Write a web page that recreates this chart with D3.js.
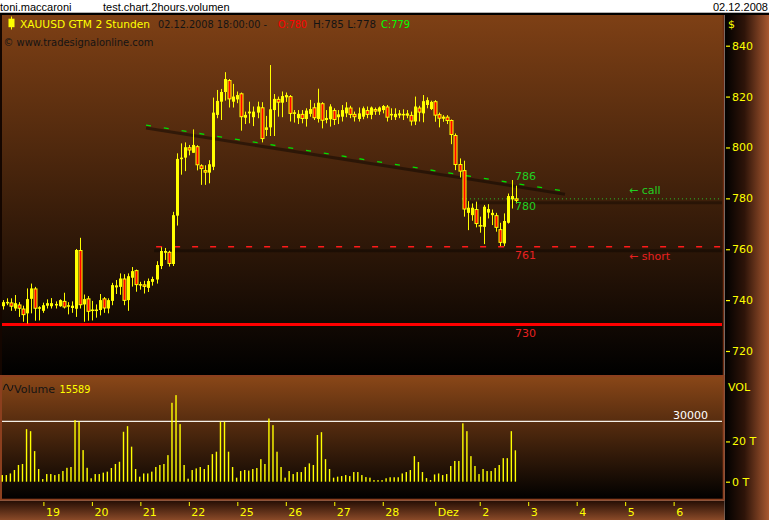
<!DOCTYPE html>
<html><head><meta charset="utf-8">
<script src="https://cdn.jsdelivr.net/npm/d3@7"></script>
<style>body{margin:0;background:#fff;} svg{display:block;}</style>
</head><body>
<svg id="c" width="769" height="520"></svg>
<script>
// ---------- DATA (2-hour bars, XAUUSD, 18.11.2008 - 02.12.2008 18:00) ----------
const open = [737.6,738.8,739.1,736.7,738.3,736.7,734.8,740.5,744.6,736.6,
735.8,737.8,737.6,737.9,737.6,739.7,737.4,736.9,736.6,759.7,
738.3,740.7,736.3,735.9,736.1,740.7,736.7,739.7,745.0,745.2,
748.5,740.0,748.8,751.8,746.1,746.2,744.8,747.2,748.1,753.4,
758.6,759.0,754.2,773.2,795.5,796.0,800.1,797.9,800.5,793.0,
791.1,790.1,792.4,812.8,818.0,821.8,826.5,818.0,818.9,821.3,
811.7,813.4,811.9,813.7,815.8,806.9,807.9,814.7,819.1,817.6,
819.7,820.2,813.2,811.5,813.2,811.2,813.2,815.8,811.2,817.4,
810.8,811.1,814.7,811.9,812.1,813.4,815.7,813.2,811.2,812.1,
814.7,812.8,815.1,814.1,814.7,816.1,812.6,811.9,812.6,813.2,
812.5,812.8,810.2,815.7,813.4,816.7,815.1,818.2,813.1,811.3,
812.1,810.8,804.9,793.5,791.1,774.3,773.4,775.8,769.5,768.8,
774.4,773.4,773.4,767.9,762.3,770.4,779.6,780];
const close = [739.2,739.3,737.4,738.8,736.6,734.1,740.4,744.6,736.6,737.2,
738.0,738.8,738.8,738.5,740.0,737.1,738.0,737.8,759.7,738.0,
740.4,735.4,736.1,736.3,740.0,736.7,740.0,745.9,745.8,748.5,
739.7,749.4,751.4,745.9,746.3,745.2,747.5,748.3,753.8,759.3,
759.3,754.2,773.4,795.5,796.0,800.1,798.8,801.0,793.0,791.5,
790.1,793.4,813.7,818.3,821.8,826.9,818.9,820.0,820.6,811.9,
812.8,814.1,814.1,816.1,803.3,807.9,815.0,819.1,817.6,820.2,
820.6,813.2,813.8,813.2,811.2,814.5,815.1,811.5,817.6,810.5,
811.6,816.1,810.8,813.0,814.7,815.7,812.8,811.9,813.4,815.4,
812.8,815.7,814.1,815.7,816.3,811.7,813.2,813.2,813.4,812.8,
813.4,810.2,816.1,813.7,818.2,818.6,817.9,812.5,811.3,812.1,
810.4,804.9,793.1,790.5,775.6,776.3,776.3,769.9,769.1,776.7,
775.8,774.3,768.4,762.5,771.1,780.9,780.9,779];
const high = [740.0,740.7,740.7,742.0,739.2,737.8,744.6,746.5,745.2,737.6,
739.0,740.3,740.8,739.5,740.3,742.9,739.2,739.5,760.1,764.5,
742.2,741.6,739.7,738.3,742.4,741.2,740.7,746.8,747.9,750.5,
750.2,750.5,753.0,752.0,747.2,747.6,748.5,749.2,755.3,760.8,
760.5,759.4,774.7,797.7,801.6,802.0,801.0,807.1,800.9,793.4,
793.0,795.0,819.6,822.6,823.0,829.6,826.9,825.0,822.0,821.6,
814.1,818.0,816.1,818.0,817.8,812.4,832.4,821.0,820.0,822.0,
821.6,820.6,814.7,814.7,814.7,815.4,818.7,817.4,823.1,817.8,
814.7,817.0,815.4,814.7,816.7,817.8,816.4,814.1,815.7,816.1,
816.1,816.1,815.7,816.1,816.7,816.7,815.4,815.4,814.7,815.0,
814.7,814.1,820.0,816.4,820.6,819.7,818.4,818.6,813.7,812.7,
812.7,811.0,805.5,795.7,794.8,778.9,778.0,778.7,772.8,777.4,
777.7,775.6,774.3,770.4,774.1,781.9,787.2,785];
const low = [736.3,738.0,735.8,735.8,733.4,731.5,730.8,734.8,731.9,732.0,
735.0,736.7,736.7,736.7,737.4,736.7,734.4,735.0,733.4,736.7,
731.5,731.9,732.0,733.1,734.0,735.0,734.8,738.0,742.4,742.1,
738.0,735.8,745.3,743.3,744.1,742.6,743.2,745.7,746.5,752.2,
755.8,753.2,753.4,769.3,789.3,790.7,796.9,797.9,791.0,785.3,
785.3,785.9,791.1,811.5,810.8,818.4,815.7,815.7,817.4,806.6,
809.2,809.5,808.4,811.5,802.0,804.5,804.5,804.5,812.1,811.9,
817.9,810.2,809.8,809.2,809.5,808.2,812.1,810.8,809.8,807.5,
809.5,808.2,808.8,809.2,810.2,811.9,811.5,810.2,810.2,811.1,
811.5,811.1,812.8,812.8,813.4,810.2,810.8,810.8,811.5,810.8,
811.5,808.6,808.8,810.2,809.9,815.4,814.7,810.1,807.9,810.1,
809.2,801.3,791.1,788.2,772.8,767.5,771.2,768.6,766.5,762.0,
772.1,769.5,766.9,761.2,761.2,770.1,776.0,778];
const volume = [3300,3300,4100,5800,8300,8800,26100,25100,15200,6300,
1300,3800,3800,3300,3800,5300,6900,7300,30600,29800,
15700,6900,1700,3800,3800,4500,5000,6800,8800,9900,
24800,27600,17400,6300,2500,4100,4100,5000,7300,8300,
8800,13200,39200,43000,28600,8300,1500,5800,6600,7300,
6300,8300,13700,14900,29800,29800,14900,7300,2000,5300,
5800,5500,6300,6800,11200,8800,31400,28100,14900,7300,
2000,5300,3800,4800,4800,7300,9100,8300,23200,24600,
11200,6300,2000,2500,2800,3300,2800,4800,4800,3300,
2300,2000,800,800,800,1700,2200,2200,2200,4100,
4800,5800,12700,9800,4800,1800,800,3600,4100,3300,
3800,7800,10300,10300,29000,25100,12700,7800,3800,6300,
5300,5300,6800,8300,11700,11700,25100,15589];
const dayTickIndex = [10,22,34,46,58,70,82,94,107,118,130,142,154,166];
const dayTickLabels = ["19","20","21","22","25","26","27","28","Dez","2","3","4","5","6"];
const priceTicks = [720,740,760,780,800,820,840];
const volTicks = [0,20000];
const volRefLevel = 30000;
const trendLine = [[35.4,808.8],[139.1,782.8]];
const trendLabel = 786;
const callLevel = 780, callStart = 113.6;
const shortLevel = 761, shortStart = 37.9;
const stopLevel = 730;

// ---------- SCALES ----------
const x = d3.scaleLinear().domain([0,127]).range([3, 3+127*4.04]);
const y = d3.scaleLinear().domain([720,840]).range([351,45.7]);
const yv = d3.scaleLinear().domain([0,30000]).range([481.7,421.3]);
const PR = 722; // right edge of plot panels

const svg = d3.select("#c");
const defs = svg.append("defs");
function grad(id, vertical, stops){
  const g = defs.append("linearGradient").attr("id",id)
    .attr("x1",0).attr("y1",0).attr("x2",vertical?0:1).attr("y2",vertical?1:0);
  stops.forEach(s=>g.append("stop").attr("offset",s[0]).attr("stop-color",s[1]));
}
grad("gMain",true,[[0,"#7e4015"],[1,"#000000"]]);
grad("gVol",true,[[0,"#8a4718"],[1,"#000000"]]);
grad("gRight",false,[[0,"#000000"],[0.45,"#2e1409"],[1,"#a8582f"]]);
grad("gBottom",true,[[0,"#240d04"],[1,"#8a4a28"]]);

// ---------- BACKGROUND / LAYOUT ----------
svg.append("rect").attr("x",0).attr("y",0).attr("width",769).attr("height",13).attr("fill","#fff");
svg.append("rect").attr("x",0).attr("y",12.7).attr("width",769).attr("height",2.3).attr("fill","#000");
svg.append("rect").attr("x",0).attr("y",15).attr("width",724).attr("height",360).attr("fill","url(#gMain)");
svg.append("rect").attr("x",0).attr("y",15).attr("width",2).attr("height",360).attr("fill","#140600");
svg.append("rect").attr("x",724.5).attr("y",15).attr("width",44.5).attr("height",505).attr("fill","url(#gRight)");
svg.append("rect").attr("x",0).attr("y",500.5).attr("width",724.5).attr("height",19.5).attr("fill","url(#gBottom)");
svg.append("rect").attr("x",1).attr("y",376).attr("width",722.7).attr("height",123.7)
  .attr("fill","url(#gVol)").attr("stroke","#8c3f1e").attr("stroke-width",2);
svg.append("line").attr("x1",723.5).attr("x2",723.5).attr("y1",15).attr("y2",375)
  .attr("stroke","#6e2c12").attr("stroke-width",1.5);

// title bar texts
const tb = svg.append("g").attr("font-family","Liberation Sans, Arial, sans-serif").attr("font-size",11).attr("fill","#000");
tb.append("text").attr("x",0).attr("y",10.5).text("toni.maccaroni");
tb.append("text").attr("x",103).attr("y",10.5).text("test.chart.2hours.volumen");
tb.append("text").attr("x",768).attr("y",10.5).attr("text-anchor","end").text("02.12.2008");

// ---------- MAIN PANEL ----------
const main = svg.append("g");
const FONT = "DejaVu Sans, sans-serif";

// stop line 730
main.append("line").attr("x1",2).attr("x2",PR).attr("y1",y(stopLevel)-1).attr("y2",y(stopLevel)-1)
  .attr("stroke","#ff0000").attr("stroke-width",3);
// short line 761 (shadow + dashes)
main.append("line").attr("x1",x(shortStart)-2).attr("x2",PR).attr("y1",y(shortLevel)+4).attr("y2",y(shortLevel)+4)
  .attr("stroke","rgba(0,0,0,0.35)").attr("stroke-width",3);
main.append("line").attr("x1",x(shortStart)).attr("x2",PR).attr("y1",y(shortLevel)).attr("y2",y(shortLevel))
  .attr("stroke","#ff1a1a").attr("stroke-width",1.6).attr("stroke-dasharray","6,12");
// call line 780 (shadow + dots)
main.append("line").attr("x1",x(callStart)).attr("x2",PR).attr("y1",y(callLevel)+4.3).attr("y2",y(callLevel)+4.3)
  .attr("stroke","rgba(0,0,0,0.3)").attr("stroke-width",3);
main.append("line").attr("x1",x(callStart)).attr("x2",PR).attr("y1",y(callLevel)+0.5).attr("y2",y(callLevel)+0.5)
  .attr("stroke","#2cc02c").attr("stroke-width",1).attr("stroke-dasharray","1,3");
// trend line (shadow + green dashes)
main.append("line")
  .attr("x1",x(trendLine[0][0])).attr("y1",y(trendLine[0][1])+3)
  .attr("x2",x(trendLine[1][0])).attr("y2",y(trendLine[1][1])+3)
  .attr("stroke","rgba(0,0,0,0.42)").attr("stroke-width",3);
main.append("line")
  .attr("x1",x(trendLine[0][0])).attr("y1",y(trendLine[0][1]))
  .attr("x2",x(trendLine[1][0])).attr("y2",y(trendLine[1][1]))
  .attr("stroke","#00e000").attr("stroke-width",1.3).attr("stroke-dasharray","5,13");

// candles
const idx = d3.range(open.length);
const cg = main.append("g");
idx.forEach(i=>{
  const cx = Math.round(x(i));
  const up = close[i] >= open[i];
  cg.append("line").attr("x1",cx+0.5).attr("x2",cx+0.5).attr("y1",y(high[i])).attr("y2",y(low[i]))
    .attr("stroke","#ffff00").attr("stroke-width",1);
  const top = y(Math.max(open[i],close[i])), bot = y(Math.min(open[i],close[i]));
  const h = Math.max(1.5, bot-top);
  if(up){
    cg.append("rect").attr("x",cx-1).attr("y",top).attr("width",3).attr("height",h).attr("fill","#ffff00");
  } else {
    cg.append("rect").attr("x",cx-1.5).attr("y",top).attr("width",4).attr("height",h).attr("fill","#ffff00");
    if(h>2.5) cg.append("rect").attr("x",cx-0.5).attr("y",top+1).attr("width",2).attr("height",h-2).attr("fill","#ff0000");
  }
});

// level labels
const lx = x(open.length-1) - 1;
const lab = main.append("g").attr("font-family",FONT).attr("font-size",11);
const trendAtLast = trendLine[0][1] + (open.length-1-trendLine[0][0])*(trendLine[1][1]-trendLine[0][1])/(trendLine[1][0]-trendLine[0][0]);
lab.append("text").attr("x",lx).attr("y",y(trendAtLast)-4).attr("fill","#22d022").text(trendLabel);
lab.append("text").attr("x",lx).attr("y",y(callLevel)+12).attr("fill","#22d022").text(callLevel);
lab.append("text").attr("x",lx).attr("y",y(shortLevel)+12).attr("fill","#e82020").text(shortLevel);
lab.append("text").attr("x",lx).attr("y",y(stopLevel)+11).attr("fill","#e82020").text(stopLevel);
lab.append("text").attr("x",629).attr("y",y(callLevel)-4).attr("fill","#22d022").text("\u2190 call");
lab.append("text").attr("x",629).attr("y",y(shortLevel)+13).attr("fill","#e82020").text("\u2190 short");

// header in main panel
const hd = main.append("g").attr("font-family",FONT).attr("font-size",10.5);
hd.append("line").attr("x1",11.5).attr("x2",11.5).attr("y1",16.5).attr("y2",29.5).attr("stroke","#ffff00");
hd.append("rect").attr("x",8.5).attr("y",18.7).attr("width",6).attr("height",8.5).attr("fill","#ffff00");
function ht(txt,x0,len,col,yy){
  hd.append("text").attr("x",x0).attr("y",yy||28).attr("fill",col).attr("textLength",len)
    .attr("lengthAdjust","spacingAndGlyphs").text(txt);
}
ht("XAUUSD GTM 2 Stunden",20,130,"#ffff00");
ht("02.12.2008 18:00:00 -",158,109,"#141414");
ht("O:" + open[open.length-1],278,29,"#ff0000");
ht("H:" + high[high.length-1] + " L:" + low[low.length-1],313,63,"#141414");
ht("C:" + close[close.length-1],381,29,"#00ff00");
ht("\u00a9 www.tradesignalonline.com",3.5,150,"#141414",46);

// price axis
const pa = svg.append("g").attr("transform","translate(726,0)")
  .call(d3.axisRight(y).tickValues(priceTicks).tickSize(4).tickPadding(2).tickFormat(d3.format("d")));
pa.select(".domain").remove();
pa.selectAll("line").attr("stroke","#ffff00").attr("stroke-width",1.2);
pa.selectAll("text").attr("fill","#ffff00").attr("font-family",FONT).attr("font-size",11);
svg.append("text").attr("x",728).attr("y",28).attr("fill","#ffff00").attr("font-family",FONT).attr("font-size",11).text("$");

// ---------- VOLUME PANEL ----------
const vg = svg.append("g");
vg.append("line").attr("x1",2).attr("x2",PR).attr("y1",yv(volRefLevel)).attr("y2",yv(volRefLevel))
  .attr("stroke","#f4f0e8").attr("stroke-width",1.2);
vg.selectAll("rect.v").data(idx).enter().append("rect").attr("class","v")
  .attr("x",i=>x(i)-1.4).attr("width",1.4)
  .attr("y",i=>yv(volume[i])).attr("height",i=>yv(0)-yv(volume[i]))
  .attr("fill","#ffff00");
vg.append("text").attr("x",673).attr("y",418.5).attr("fill","#ffffff").attr("font-family",FONT).attr("font-size",11).text(volRefLevel);
// volume header
vg.append("path").attr("d","M3.5,390 C5,383 7,383 8.3,387.5 C9.6,392 11.6,392 13,385")
  .attr("fill","none").attr("stroke","#141414").attr("stroke-width",1.1);
vg.append("text").attr("x",14).attr("y",392.5).attr("fill","#141414").attr("font-family",FONT).attr("font-size",10.5)
  .attr("textLength",41).attr("lengthAdjust","spacingAndGlyphs").text("Volume");
vg.append("text").attr("x",59.5).attr("y",392.5).attr("fill","#ffff00").attr("font-family",FONT).attr("font-size",10.5)
  .attr("textLength",31).attr("lengthAdjust","spacingAndGlyphs").text(Math.round(volume[volume.length-1]));
// volume axis
const va = svg.append("g").attr("transform","translate(726,0)")
  .call(d3.axisRight(yv).tickValues(volTicks).tickSize(4).tickPadding(2).tickFormat(d=>(d/1000)+" T"));
va.select(".domain").remove();
va.selectAll("line").attr("stroke","#ffff00").attr("stroke-width",1.2);
va.selectAll("text").attr("fill","#ffff00").attr("font-family",FONT).attr("font-size",11);
svg.append("text").attr("x",728).attr("y",391).attr("fill","#ffff00").attr("font-family",FONT).attr("font-size",11).text("VOL");

// ---------- TIME AXIS ----------
const ta = svg.append("g").attr("transform","translate(0,502)")
  .call(d3.axisBottom(x).tickValues(dayTickIndex).tickSize(4).tickFormat((d,i)=>dayTickLabels[i]));
ta.select(".domain").remove();
ta.selectAll("line").attr("stroke","#ffff00").attr("stroke-width",1);
ta.selectAll("text").attr("fill","#ffff00").attr("font-family",FONT).attr("font-size",11)
  .attr("text-anchor","start").attr("x",2).attr("y",14).attr("dy",0);
</script>
</body></html>
